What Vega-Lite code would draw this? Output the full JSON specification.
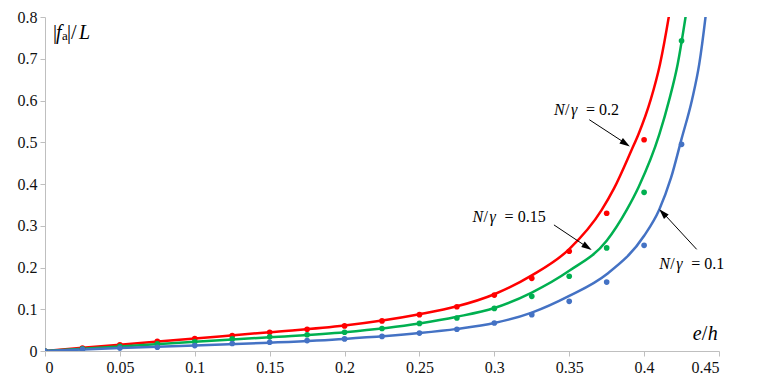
{
  "$schema": "https://vega.github.io/schema/vega-lite/v6.json",
  "width": 674,
  "height": 334,
  "autosize": "none",
  "padding": {"left": 45, "top": 17, "right": 44, "bottom": 37},
  "background": "white",
  "data": {"values": [{}]},
  "config": {
    "view": {"stroke": null},
    "font": "Liberation Serif, Times New Roman, serif",
    "text": {"font": "Liberation Serif, Times New Roman, serif"},
    "axis": {
      "grid": false,
      "domainColor": "#BFBFBF",
      "tickColor": "#BFBFBF",
      "tickSize": 5,
      "labelFont": "Liberation Serif, Times New Roman, serif",
      "labelFontSize": 16,
      "labelColor": "#111111",
      "labelPadding": 3,
      "title": null
    }
  },
  "datasets": {
    "curves": [
      {"series": "0.2", "x": 0, "y": 0},
      {"series": "0.2", "x": 0.05, "y": 0.015},
      {"series": "0.2", "x": 0.1, "y": 0.030},
      {"series": "0.2", "x": 0.15, "y": 0.045},
      {"series": "0.2", "x": 0.2, "y": 0.061},
      {"series": "0.2", "x": 0.25, "y": 0.088},
      {"series": "0.2", "x": 0.275, "y": 0.107},
      {"series": "0.2", "x": 0.3, "y": 0.136},
      {"series": "0.2", "x": 0.325, "y": 0.181},
      {"series": "0.2", "x": 0.35, "y": 0.244},
      {"series": "0.2", "x": 0.3717, "y": 0.338},
      {"series": "0.2", "x": 0.38, "y": 0.39},
      {"series": "0.2", "x": 0.3917, "y": 0.482},
      {"series": "0.2", "x": 0.3961, "y": 0.518},
      {"series": "0.2", "x": 0.4044, "y": 0.602},
      {"series": "0.2", "x": 0.4106, "y": 0.687},
      {"series": "0.2", "x": 0.4166, "y": 0.803},
      {"series": "0.2", "x": 0.42, "y": 0.88},
      {"series": "0.15", "x": 0, "y": 0},
      {"series": "0.15", "x": 0.05, "y": 0.011},
      {"series": "0.15", "x": 0.1, "y": 0.022},
      {"series": "0.15", "x": 0.15, "y": 0.033},
      {"series": "0.15", "x": 0.2, "y": 0.045},
      {"series": "0.15", "x": 0.25, "y": 0.066},
      {"series": "0.15", "x": 0.275, "y": 0.082},
      {"series": "0.15", "x": 0.3, "y": 0.103},
      {"series": "0.15", "x": 0.325, "y": 0.140},
      {"series": "0.15", "x": 0.35, "y": 0.192},
      {"series": "0.15", "x": 0.375, "y": 0.264},
      {"series": "0.15", "x": 0.3884, "y": 0.338},
      {"series": "0.15", "x": 0.3965, "y": 0.394},
      {"series": "0.15", "x": 0.4101, "y": 0.518},
      {"series": "0.15", "x": 0.4168, "y": 0.602},
      {"series": "0.15", "x": 0.4224, "y": 0.687},
      {"series": "0.15", "x": 0.4278, "y": 0.803},
      {"series": "0.15", "x": 0.431, "y": 0.88},
      {"series": "0.1", "x": 0, "y": 0},
      {"series": "0.1", "x": 0.05, "y": 0.007},
      {"series": "0.1", "x": 0.1, "y": 0.013},
      {"series": "0.1", "x": 0.15, "y": 0.020},
      {"series": "0.1", "x": 0.2, "y": 0.029},
      {"series": "0.1", "x": 0.25, "y": 0.043},
      {"series": "0.1", "x": 0.275, "y": 0.053},
      {"series": "0.1", "x": 0.3, "y": 0.067},
      {"series": "0.1", "x": 0.325, "y": 0.092},
      {"series": "0.1", "x": 0.35, "y": 0.132},
      {"series": "0.1", "x": 0.375, "y": 0.184},
      {"series": "0.1", "x": 0.4, "y": 0.276},
      {"series": "0.1", "x": 0.41, "y": 0.338},
      {"series": "0.1", "x": 0.418, "y": 0.415},
      {"series": "0.1", "x": 0.425, "y": 0.508},
      {"series": "0.1", "x": 0.432, "y": 0.602},
      {"series": "0.1", "x": 0.4368, "y": 0.687},
      {"series": "0.1", "x": 0.4411, "y": 0.803},
      {"series": "0.1", "x": 0.4435, "y": 0.88}
    ],
    "points": [
      {"series": "0.2", "x": 0, "y": 0},
      {"series": "0.2", "x": 0.025, "y": 0.007},
      {"series": "0.2", "x": 0.05, "y": 0.015},
      {"series": "0.2", "x": 0.075, "y": 0.023},
      {"series": "0.2", "x": 0.1, "y": 0.030},
      {"series": "0.2", "x": 0.125, "y": 0.037},
      {"series": "0.2", "x": 0.15, "y": 0.045},
      {"series": "0.2", "x": 0.175, "y": 0.052},
      {"series": "0.2", "x": 0.2, "y": 0.060},
      {"series": "0.2", "x": 0.225, "y": 0.072},
      {"series": "0.2", "x": 0.25, "y": 0.087},
      {"series": "0.2", "x": 0.275, "y": 0.106},
      {"series": "0.2", "x": 0.3, "y": 0.134},
      {"series": "0.2", "x": 0.325, "y": 0.174},
      {"series": "0.2", "x": 0.35, "y": 0.239},
      {"series": "0.2", "x": 0.375, "y": 0.330},
      {"series": "0.2", "x": 0.4, "y": 0.506},
      {"series": "0.15", "x": 0, "y": 0},
      {"series": "0.15", "x": 0.025, "y": 0.005},
      {"series": "0.15", "x": 0.05, "y": 0.011},
      {"series": "0.15", "x": 0.075, "y": 0.017},
      {"series": "0.15", "x": 0.1, "y": 0.022},
      {"series": "0.15", "x": 0.125, "y": 0.029},
      {"series": "0.15", "x": 0.15, "y": 0.034},
      {"series": "0.15", "x": 0.175, "y": 0.039},
      {"series": "0.15", "x": 0.2, "y": 0.045},
      {"series": "0.15", "x": 0.225, "y": 0.054},
      {"series": "0.15", "x": 0.25, "y": 0.066},
      {"series": "0.15", "x": 0.275, "y": 0.079},
      {"series": "0.15", "x": 0.3, "y": 0.102},
      {"series": "0.15", "x": 0.325, "y": 0.131},
      {"series": "0.15", "x": 0.35, "y": 0.179},
      {"series": "0.15", "x": 0.375, "y": 0.247},
      {"series": "0.15", "x": 0.4, "y": 0.380},
      {"series": "0.15", "x": 0.425, "y": 0.743},
      {"series": "0.1", "x": 0, "y": 0},
      {"series": "0.1", "x": 0.025, "y": 0.004},
      {"series": "0.1", "x": 0.05, "y": 0.007},
      {"series": "0.1", "x": 0.075, "y": 0.009},
      {"series": "0.1", "x": 0.1, "y": 0.013},
      {"series": "0.1", "x": 0.125, "y": 0.018},
      {"series": "0.1", "x": 0.15, "y": 0.021},
      {"series": "0.1", "x": 0.175, "y": 0.025},
      {"series": "0.1", "x": 0.2, "y": 0.029},
      {"series": "0.1", "x": 0.225, "y": 0.035},
      {"series": "0.1", "x": 0.25, "y": 0.043},
      {"series": "0.1", "x": 0.275, "y": 0.052},
      {"series": "0.1", "x": 0.3, "y": 0.067},
      {"series": "0.1", "x": 0.325, "y": 0.087},
      {"series": "0.1", "x": 0.35, "y": 0.119},
      {"series": "0.1", "x": 0.375, "y": 0.165},
      {"series": "0.1", "x": 0.4, "y": 0.253},
      {"series": "0.1", "x": 0.425, "y": 0.495}
    ]
  },
  "layer": [
    {
      "data": {"name": "curves"},
      "mark": {"type": "line", "interpolate": "monotone", "strokeWidth": 2.5, "clip": true},
      "encoding": {
        "x": {
          "field": "x", "type": "quantitative",
          "scale": {"domain": [0, 0.45], "nice": false, "zero": true},
          "axis": {"values": [0, 0.05, 0.1, 0.15, 0.2, 0.25, 0.3, 0.35, 0.4, 0.45], "format": "~g"}
        },
        "y": {
          "field": "y", "type": "quantitative",
          "scale": {"domain": [0, 0.8], "nice": false, "zero": true},
          "axis": {"values": [0, 0.1, 0.2, 0.3, 0.4, 0.5, 0.6, 0.7, 0.8], "format": "~g"}
        },
        "color": {
          "field": "series", "type": "nominal",
          "scale": {"domain": ["0.2", "0.15", "0.1"], "range": ["#FF0000", "#00B050", "#4472C4"]},
          "legend": null
        }
      }
    },
    {
      "data": {"name": "points"},
      "mark": {"type": "circle", "size": 32, "opacity": 1, "clip": true},
      "encoding": {
        "x": {"field": "x", "type": "quantitative"},
        "y": {"field": "y", "type": "quantitative"},
        "color": {"field": "series", "type": "nominal", "legend": null}
      }
    },
    {
      "mark": {"type": "rule", "color": "#000000", "strokeWidth": 1},
      "encoding": {"x": {"datum": 0.3634}, "y": {"datum": 0.554}, "x2": {"datum": 0.389}, "y2": {"datum": 0.494}}
    },
    {
      "mark": {"type": "point", "shape": "M0,0L-0.8,2.6L0.8,2.6Z", "filled": true, "color": "#000000", "opacity": 1, "size": 64, "angle": 123},
      "encoding": {"x": {"datum": 0.3905}, "y": {"datum": 0.490}}
    },
    {
      "mark": {"type": "rule", "color": "#000000", "strokeWidth": 1},
      "encoding": {"x": {"datum": 0.3398}, "y": {"datum": 0.302}, "x2": {"datum": 0.3636}, "y2": {"datum": 0.245}}
    },
    {
      "mark": {"type": "point", "shape": "M0,0L-0.8,2.6L0.8,2.6Z", "filled": true, "color": "#000000", "opacity": 1, "size": 64, "angle": 123},
      "encoding": {"x": {"datum": 0.365}, "y": {"datum": 0.242}}
    },
    {
      "mark": {"type": "rule", "color": "#000000", "strokeWidth": 1},
      "encoding": {"x": {"datum": 0.4351}, "y": {"datum": 0.2435}, "x2": {"datum": 0.4112}, "y2": {"datum": 0.3365}}
    },
    {
      "mark": {"type": "point", "shape": "M0,0L-0.8,2.6L0.8,2.6Z", "filled": true, "color": "#000000", "opacity": 1, "size": 64, "angle": 317},
      "encoding": {"x": {"datum": 0.4101}, "y": {"datum": 0.3397}}
    },
    {
      "mark": {"type": "text", "text": "|", "align": "left", "baseline": "alphabetic", "fontSize": 20, "color": "#000000"},
      "encoding": {"x": {"datum": 0.0053}, "y": {"datum": 0.748}}
    },
    {
      "mark": {"type": "text", "text": "f", "align": "left", "baseline": "alphabetic", "fontSize": 20, "fontStyle": "italic", "dx": 3, "color": "#000000"},
      "encoding": {"x": {"datum": 0.0053}, "y": {"datum": 0.748}}
    },
    {
      "mark": {"type": "text", "text": "a", "align": "left", "baseline": "alphabetic", "fontSize": 13, "dx": 9, "dy": 1, "color": "#000000"},
      "encoding": {"x": {"datum": 0.0053}, "y": {"datum": 0.748}}
    },
    {
      "mark": {"type": "text", "text": "|/", "align": "left", "baseline": "alphabetic", "fontSize": 20, "dx": 14, "color": "#000000"},
      "encoding": {"x": {"datum": 0.0053}, "y": {"datum": 0.748}}
    },
    {
      "mark": {"type": "text", "text": "L", "align": "left", "baseline": "alphabetic", "fontSize": 20, "fontStyle": "italic", "dx": 26, "color": "#000000"},
      "encoding": {"x": {"datum": 0.0053}, "y": {"datum": 0.748}}
    },
    {
      "mark": {"type": "text", "text": "e", "align": "left", "baseline": "alphabetic", "fontSize": 20, "fontStyle": "italic", "color": "#000000"},
      "encoding": {"x": {"datum": 0.4324}, "y": {"datum": 0.027}}
    },
    {
      "mark": {"type": "text", "text": "/", "align": "left", "baseline": "alphabetic", "fontSize": 20, "dx": 9, "color": "#000000"},
      "encoding": {"x": {"datum": 0.4324}, "y": {"datum": 0.027}}
    },
    {
      "mark": {"type": "text", "text": "h", "align": "left", "baseline": "alphabetic", "fontSize": 20, "fontStyle": "italic", "dx": 15, "color": "#000000"},
      "encoding": {"x": {"datum": 0.4324}, "y": {"datum": 0.027}}
    },
    {
      "data": {"values": [
        {"lx": 0.3398, "ly": 0.566, "val": "= 0.2"},
        {"lx": 0.2855, "ly": 0.310, "val": "= 0.15"},
        {"lx": 0.4101, "ly": 0.196, "val": "= 0.1"}
      ]},
      "layer": [
        {
          "mark": {"type": "text", "text": "N", "align": "left", "baseline": "alphabetic", "fontSize": 16, "fontStyle": "italic", "color": "#000000"},
          "encoding": {"x": {"field": "lx", "type": "quantitative"}, "y": {"field": "ly", "type": "quantitative"}}
        },
        {
          "mark": {"type": "text", "text": "/", "align": "left", "baseline": "alphabetic", "fontSize": 16, "dx": 11, "color": "#000000"},
          "encoding": {"x": {"field": "lx", "type": "quantitative"}, "y": {"field": "ly", "type": "quantitative"}}
        },
        {
          "mark": {"type": "text", "text": "γ", "align": "left", "baseline": "alphabetic", "fontSize": 16, "fontStyle": "italic", "dx": 17, "color": "#000000"},
          "encoding": {"x": {"field": "lx", "type": "quantitative"}, "y": {"field": "ly", "type": "quantitative"}}
        },
        {
          "mark": {"type": "text", "align": "left", "baseline": "alphabetic", "fontSize": 16, "dx": 32, "color": "#000000"},
          "encoding": {"x": {"field": "lx", "type": "quantitative"}, "y": {"field": "ly", "type": "quantitative"}, "text": {"field": "val"}}
        }
      ]
    }
  ]
}
